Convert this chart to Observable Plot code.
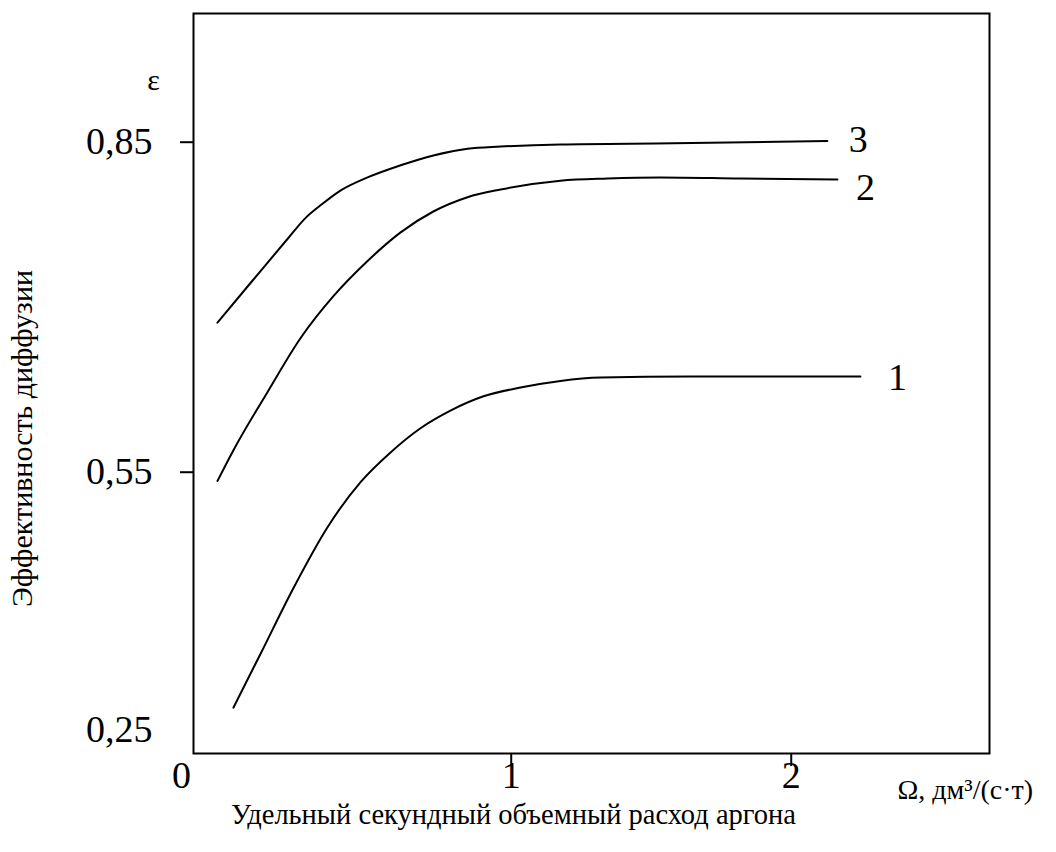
<!DOCTYPE html>
<html><head><meta charset="utf-8">
<script src="https://cdn.jsdelivr.net/npm/d3@7"></script>
<script src="https://cdn.jsdelivr.net/npm/@observablehq/plot@0.6"></script>
<style>body{margin:0;background:#fff} svg{display:block}</style>
</head><body><div id="chart"></div>
<script>
// Curve identifiers
const seriesNames = ["1", "2", "3"];
// Curve 1
const omega1 = [0.008, 0.105, 0.223, 0.344, 0.462, 0.569, 0.676, 0.783, 0.901, 1.033, 1.176, 1.319, 1.640, 2.247];
const eps1   = [0.336, 0.385, 0.445, 0.500, 0.541, 0.568, 0.590, 0.606, 0.619, 0.627, 0.633, 0.636, 0.637, 0.637];
// Curve 2
const omega2 = [-0.049, 0.008, 0.130, 0.248, 0.365, 0.487, 0.605, 0.722, 0.844, 0.962, 1.176, 1.344, 1.533, 1.819, 2.165];
const eps2   = [0.542, 0.570, 0.623, 0.672, 0.710, 0.742, 0.768, 0.787, 0.800, 0.807, 0.815, 0.817, 0.818, 0.817, 0.816];
// Curve 3
const omega3 = [-0.049, 0.069, 0.201, 0.265, 0.326, 0.390, 0.487, 0.605, 0.722, 0.844, 0.962, 1.176, 1.579, 2.129];
const eps3   = [0.686, 0.722, 0.762, 0.781, 0.794, 0.806, 0.818, 0.829, 0.838, 0.844, 0.846, 0.848, 0.849, 0.851];
// Axes
const xTicks = [1, 2];
const xTickLabels = ["1", "2"];
const yTicks = [0.55, 0.85];
const yTickLabels = ["0,55", "0,85"];
const xOriginLabel = "0";
const yOriginLabel = "0,25";
const yAxisSymbol = "ε";
const xAxisUnit = "Ω, дм³/(с·т)";
const xTitle = "Удельный секундный объемный расход аргона";
const yTitle = "Эффективность диффузии";

const allX = [omega1, omega2, omega3];
const allY = [eps1, eps2, eps3];
const rows = [];
seriesNames.forEach((s, i) => allX[i].forEach((x, j) => rows.push({series: s, x, y: allY[i][j]})));

const font = "'Liberation Serif', 'Times New Roman', serif";
const labelOffsets = {"1": [37, 1], "2": [28, 8], "3": [31, -1]};

const plot = Plot.plot({
  width: 1056,
  height: 852,
  marginLeft: 193,
  marginRight: 67,
  marginTop: 13,
  marginBottom: 99,
  style: {fontFamily: font, color: "black", background: "white"},
  x: {domain: [-0.1346, 2.708]},
  y: {domain: [0.2943, 0.967]},
  marks: [
    Plot.frame({stroke: "black", strokeWidth: 2}),
    Plot.axisY(yTicks, {tickSize: 13, tickPadding: 28, strokeWidth: 2, fontSize: 38,
      tickFormat: d => yTickLabels[yTicks.indexOf(d)], label: null}),
    Plot.axisX(xTicks, {tickSize: 13, tickPadding: -5, strokeWidth: 2, fontSize: 38,
      tickFormat: d => xTickLabels[xTicks.indexOf(d)], label: null}),
    Plot.line(rows, {x: "x", y: "y", z: "series", stroke: "black", strokeWidth: 2, curve: "monotone-x"}),
    ...seriesNames.map(s => Plot.text(rows.filter(r => r.series === s), Plot.selectLast({
      x: "x", y: "y", text: "series", fontSize: 38, textAnchor: "middle",
      dx: labelOffsets[s][0], dy: labelOffsets[s][1]
    }))),
    Plot.text([xOriginLabel], {text: d => d, frameAnchor: "bottom-left", textAnchor: "middle", dx: -12, dy: 8, lineAnchor: "top", fontSize: 38}),
    Plot.text([yOriginLabel], {text: d => d, frameAnchor: "bottom-left", dx: -41, dy: -12, textAnchor: "end", fontSize: 38}),
    Plot.text([yAxisSymbol], {text: d => d, frameAnchor: "top-left", textAnchor: "middle", dx: -40, dy: 55, fontSize: 30}),
    Plot.text([xAxisUnit], {text: d => d, frameAnchor: "bottom-right", dx: -92, dy: 45, textAnchor: "start", fontSize: 28}),
    Plot.text([xTitle], {text: d => d, frameAnchor: "bottom", textAnchor: "middle", dx: -78, dy: 70, fontSize: 28.5}),
    Plot.text([yTitle], {text: d => d, frameAnchor: "left", textAnchor: "middle", rotate: -90, dx: -171, dy: 55, fontSize: 30})
  ]
});
document.getElementById("chart").appendChild(plot);
</script>
</body></html>
